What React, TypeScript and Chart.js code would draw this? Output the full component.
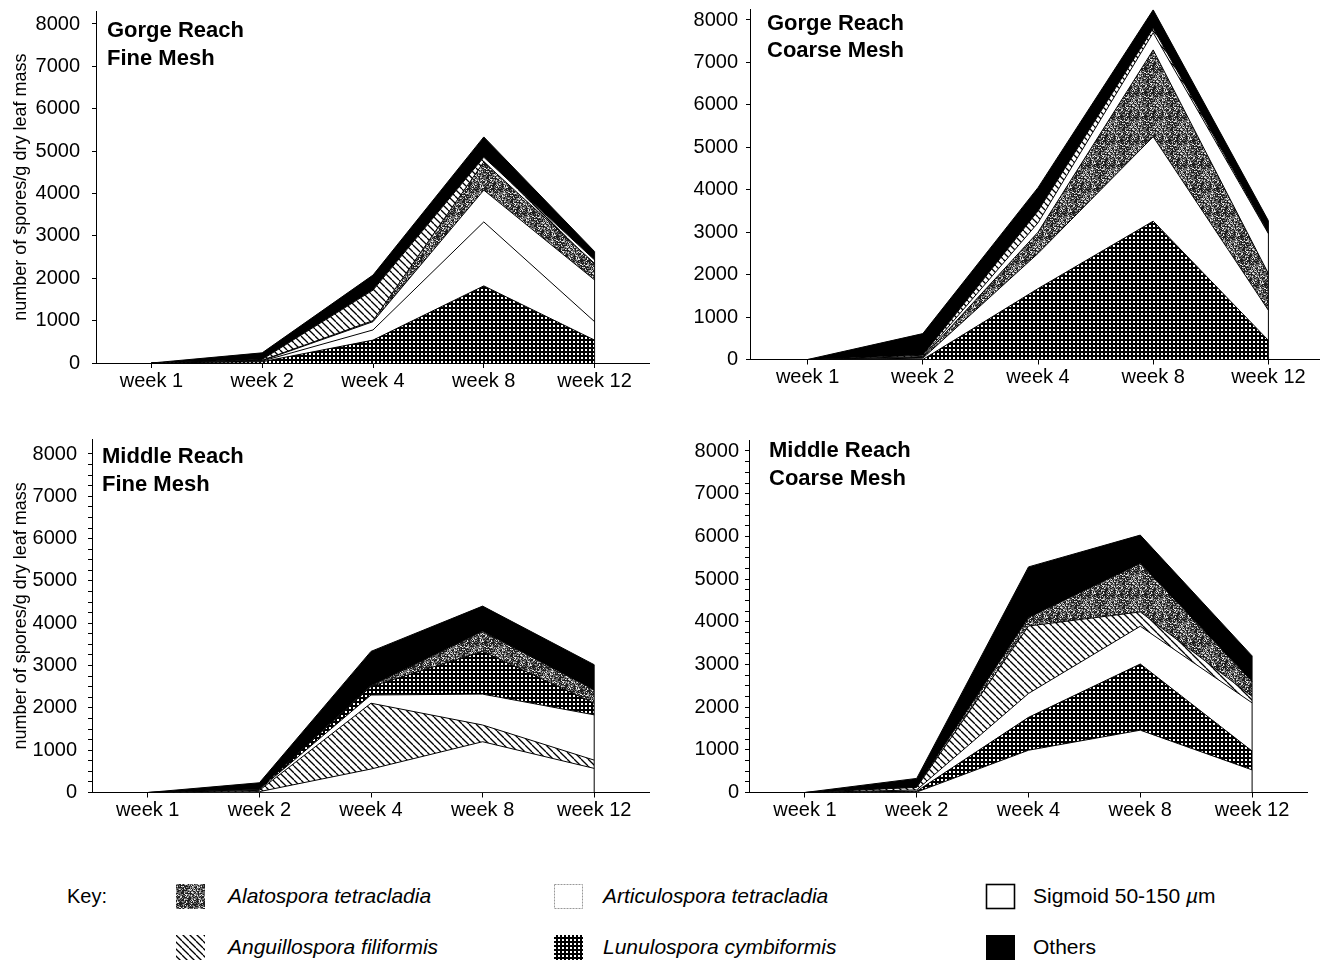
import React, { useEffect, useRef } from 'react';
import { Chart, registerables } from 'chart.js';

Chart.register(...registerables);

// ---------------- DATA ----------------
const WEEKS = ['week 1', 'week 2', 'week 4', 'week 8', 'week 12'];
const Y_TICK_STEP = 1000;
const Y_TICK_TOP = 8000;
const Y_AXIS_TITLE = 'number of spores/g dry leaf mass';

// Gorge Reach, Fine Mesh (spores / g dry leaf mass per taxon)
const gorgeFineLunulospora = [0, 30, 540, 1820, 540];
const gorgeFineSigmoid = [0, 15, 240, 1510, 435];
const gorgeFineArticulospora = [0, 10, 195, 750, 985];
const gorgeFineAlatospora = [0, 10, 25, 665, 390];
const gorgeFineAnguillospora = [0, 20, 720, 110, 80];
const gorgeFineOthers = [0, 155, 355, 480, 200];

// Gorge Reach, Coarse Mesh
const gorgeCoarseLunulospora = [0, 0, 1670, 3260, 450];
const gorgeCoarseSigmoid = [0, 30, 830, 1990, 710];
const gorgeCoarseAlatospora = [0, 20, 500, 2045, 865];
const gorgeCoarseArticulospora = [0, 20, 220, 405, 940];
const gorgeCoarseAnguillospora = [0, 30, 280, 105, 20];
const gorgeCoarseOthers = [0, 510, 550, 435, 285];

// Middle Reach, Fine Mesh
const middleFineArticulospora = [0, 20, 555, 1200, 570];
const middleFineAnguillospora = [0, 30, 1555, 395, 195];
const middleFineSigmoid = [0, 20, 195, 730, 1070];
const middleFineLunulospora = [0, 10, 200, 1010, 275];
const middleFineAlatospora = [0, 5, 15, 475, 315];
const middleFineOthers = [0, 145, 815, 595, 595];

// Middle Reach, Coarse Mesh
const middleCoarseArticulospora = [0, 10, 990, 1460, 530];
const middleCoarseLunulospora = [0, 20, 770, 1550, 440];
const middleCoarseSigmoid = [0, 30, 560, 885, 1130];
const middleCoarseAnguillospora = [0, 60, 1580, 335, 150];
const middleCoarseAlatospora = [0, 10, 200, 1135, 350];
const middleCoarseOthers = [0, 200, 1185, 665, 600];

type Kind = 'ala' | 'art' | 'sig' | 'ang' | 'lun' | 'oth';

const SPECIES_LABEL: Record<Kind, string> = {
  ala: 'Alatospora tetracladia',
  art: 'Articulospora tetracladia',
  sig: 'Sigmoid 50-150 µm',
  ang: 'Anguillospora filiformis',
  lun: 'Lunulospora cymbiformis',
  oth: 'Others',
};

const PANELS: { title: string[]; layers: [Kind, number[]][] }[] = [
  {
    title: ['Gorge Reach', 'Fine Mesh'],
    layers: [
      ['lun', gorgeFineLunulospora],
      ['sig', gorgeFineSigmoid],
      ['art', gorgeFineArticulospora],
      ['ala', gorgeFineAlatospora],
      ['ang', gorgeFineAnguillospora],
      ['oth', gorgeFineOthers],
    ],
  },
  {
    title: ['Gorge Reach', 'Coarse Mesh'],
    layers: [
      ['lun', gorgeCoarseLunulospora],
      ['sig', gorgeCoarseSigmoid],
      ['ala', gorgeCoarseAlatospora],
      ['art', gorgeCoarseArticulospora],
      ['ang', gorgeCoarseAnguillospora],
      ['oth', gorgeCoarseOthers],
    ],
  },
  {
    title: ['Middle Reach', 'Fine Mesh'],
    layers: [
      ['art', middleFineArticulospora],
      ['ang', middleFineAnguillospora],
      ['sig', middleFineSigmoid],
      ['lun', middleFineLunulospora],
      ['ala', middleFineAlatospora],
      ['oth', middleFineOthers],
    ],
  },
  {
    title: ['Middle Reach', 'Coarse Mesh'],
    layers: [
      ['art', middleCoarseArticulospora],
      ['lun', middleCoarseLunulospora],
      ['sig', middleCoarseSigmoid],
      ['ang', middleCoarseAnguillospora],
      ['ala', middleCoarseAlatospora],
      ['oth', middleCoarseOthers],
    ],
  },
];

const LEGEND_ORDER: Kind[][] = [
  ['ala', 'art', 'sig'],
  ['ang', 'lun', 'oth'],
];

// ---------------- LAYOUT ----------------
const LAYOUT = [
  { L: 0, T: 0, W: 650, H: 400, yw: 96, zeroY: 363, y8000: 24, max: 8300, minor: 1000, yTitle: true, tickPad: 12, titleX: 107, titleY: [31, 59] },
  { L: 660, T: 0, W: 666, H: 400, yw: 90, zeroY: 359.5, y8000: 20, max: 8250, minor: 1000, yTitle: false, tickPad: 8, titleX: 767, titleY: [24, 51] },
  { L: 0, T: 430, W: 650, H: 400, yw: 92, zeroY: 792.5, y8000: 454, max: 8350, minor: 250, yTitle: true, tickPad: 11, titleX: 102, titleY: [457, 485] },
  { L: 660, T: 430, W: 648, H: 400, yw: 89, zeroY: 792.5, y8000: 451, max: 8250, minor: 250, yTitle: false, tickPad: 6, titleX: 769, titleY: [451, 479] },
];

const FONT = '"Liberation Sans", Arial, Helvetica, sans-serif';

// ---------------- PATTERNS ----------------
function tile(size: number, draw: (c: CanvasRenderingContext2D) => void) {
  const cv = document.createElement('canvas');
  cv.width = size;
  cv.height = size;
  const c = cv.getContext('2d')!;
  draw(c);
  return cv;
}

function makeFills(ctx: CanvasRenderingContext2D) {
  const cross = tile(4, (c) => {
    c.fillStyle = '#000';
    c.fillRect(0, 0, 4, 4);
    c.fillStyle = '#fff';
    c.fillRect(1, 1, 2, 2);
  });
  const hatch = tile(7, (c) => {
    c.fillStyle = '#fff';
    c.fillRect(0, 0, 7, 7);
    c.strokeStyle = '#000';
    c.lineWidth = 1.3;
    for (const k of [-7, 0, 7]) {
      c.beginPath();
      c.moveTo(k, 0);
      c.lineTo(k + 7, 7);
      c.stroke();
    }
  });
  const stip = tile(24, (c) => {
    const img = c.createImageData(24, 24);
    for (let y = 0; y < 24; y++) {
      for (let x = 0; x < 24; x++) {
        let h = Math.imul(x + 1, 374761393) + Math.imul(y + 7, 668265263);
        h = Math.imul(h ^ (h >>> 13), 1274126177);
        h ^= h >>> 16;
        const r = (h >>> 0) / 4294967296;
        const v = r < 0.4 ? 30 : r < 0.7 ? 105 : r < 0.88 ? 165 : 235;
        const i = (y * 24 + x) * 4;
        img.data[i] = v;
        img.data[i + 1] = v;
        img.data[i + 2] = v;
        img.data[i + 3] = 255;
      }
    }
    c.putImageData(img, 0, 0);
  });
  return {
    lun: ctx.createPattern(cross, 'repeat')!,
    ang: ctx.createPattern(hatch, 'repeat')!,
    ala: ctx.createPattern(stip, 'repeat')!,
    art: '#ffffff',
    sig: '#ffffff',
    oth: '#000000',
  } as Record<Kind, any>;
}

// ---------------- COMPONENT ----------------
export default function App() {
  const canvasRefs = useRef<(HTMLCanvasElement | null)[]>([]);
  const swatchRefs = useRef<Record<string, HTMLCanvasElement | null>>({});

  useEffect(() => {
    Chart.defaults.font.family = FONT;
    Chart.defaults.color = '#000';
    const charts: Chart[] = [];

    PANELS.forEach((panel, idx) => {
      const lay = LAYOUT[idx];
      const cv = canvasRefs.current[idx];
      if (!cv) return;
      const ctx = cv.getContext('2d')!;
      const fills = makeFills(ctx);
      const pxPerUnit = (lay.zeroY - lay.y8000) / 8000;
      const areaTop = lay.zeroY - lay.max * pxPerUnit - lay.T;
      const xh = lay.T + lay.H - lay.zeroY;

      const edgePlugin = {
        id: 'edge' + idx,
        afterDatasetsDraw(chart: any) {
          const c = chart.ctx;
          const n = WEEKS.length - 1;
          const x = chart.scales.x.getPixelForValue(n);
          let total = 0;
          chart.data.datasets.forEach((d: any) => (total += d.data[n]));
          c.save();
          c.strokeStyle = '#000';
          c.lineWidth = 1;
          c.beginPath();
          c.moveTo(x, chart.scales.y.getPixelForValue(0));
          c.lineTo(x, chart.scales.y.getPixelForValue(total));
          c.stroke();
          c.restore();
        },
      };
      const titlePlugin = {
        id: 'ptitle' + idx,
        afterDraw(chart: any) {
          const c = chart.ctx;
          c.save();
          c.fillStyle = '#000';
          c.font = `bold 22px ${FONT}`;
          c.textBaseline = 'middle';
          c.textAlign = 'left';
          panel.title.forEach((t, i) => c.fillText(t, lay.titleX - lay.L, lay.titleY[i] - lay.T));
          c.restore();
        },
      };

      const chart = new Chart(cv, {
        type: 'line',
        data: {
          labels: WEEKS,
          datasets: panel.layers.map(([kind, values], i) => ({
            label: SPECIES_LABEL[kind],
            data: values,
            fill: i === 0 ? 'origin' : '-1',
            backgroundColor: fills[kind],
            borderColor: '#000',
            borderWidth: 1,
            pointRadius: 0,
            tension: 0,
          })),
        },
        options: {
          animation: false,
          responsive: false,
          maintainAspectRatio: false,
          layout: { padding: { top: areaTop, left: 0, right: 0, bottom: 0 } },
          plugins: { legend: { display: false }, tooltip: { enabled: false } },
          scales: {
            x: {
              type: 'category',
              offset: true,
              grid: { display: true, drawOnChartArea: false, drawTicks: true, tickLength: 5, color: '#000', offset: false },
              border: { display: true, color: '#000', width: 1 },
              ticks: { color: '#000', font: { size: 20, family: FONT }, padding: 1, maxRotation: 0, autoSkip: false },
              afterFit: (s: any) => {
                s.height = xh;
                s.paddingLeft = 0;
                s.paddingRight = 0;
              },
            },
            y: {
              stacked: true,
              min: 0,
              max: lay.max,
              ticks: {
                autoSkip: false,
                color: '#000',
                font: { size: 20, family: FONT },
                padding: lay.tickPad,
                callback: (v: any) => (Number(v) % Y_TICK_STEP === 0 ? String(v) : ''),
              },
              afterBuildTicks: (s: any) => {
                const t: { value: number }[] = [];
                for (let v = 0; v <= Y_TICK_TOP; v += lay.minor) t.push({ value: v });
                s.ticks = t;
              },
              grid: { drawOnChartArea: false, drawTicks: true, tickLength: 4, color: '#000' },
              border: { display: true, color: '#000', width: 1 },
              title: {
                display: lay.yTitle,
                text: Y_AXIS_TITLE,
                color: '#000',
                font: { size: 18, family: FONT },
                padding: { top: 10, bottom: 0 },
              },
              afterFit: (s: any) => {
                s.width = lay.yw;
                s.paddingTop = 0;
                s.paddingBottom = 0;
              },
            },
          },
        } as any,
        plugins: [edgePlugin, titlePlugin],
      });
      charts.push(chart);
    });

    // legend swatches
    const tmp = document.createElement('canvas').getContext('2d')!;
    const fills = makeFills(tmp);
    (Object.keys(swatchRefs.current) as Kind[]).forEach((k) => {
      const cv = swatchRefs.current[k];
      if (!cv) return;
      const c = cv.getContext('2d')!;
      c.clearRect(0, 0, cv.width, cv.height);
      c.fillStyle = fills[k];
      c.fillRect(1, 1, cv.width - 2, cv.height - 2);
      if (k === 'sig') {
        c.strokeStyle = '#000';
        c.lineWidth = 1.6;
        c.strokeRect(1.5, 1.5, cv.width - 3, cv.height - 3);
      } else if (k === 'art') {
        c.strokeStyle = '#999';
        c.lineWidth = 1;
        c.setLineDash([2, 1]);
        c.strokeRect(1.5, 1.5, cv.width - 3, cv.height - 3);
      }
    });

    return () => charts.forEach((c) => c.destroy());
  }, []);

  const legendColX = [175, 553, 985];
  const legendTextX = [228, 603, 1033];
  const legendRowY = [896, 947];

  return (
    <div
      style={{
        position: 'fixed',
        left: 0,
        top: 0,
        width: 1320,
        height: 963,
        overflow: 'hidden',
        background: '#fff',
        fontFamily: FONT,
      }}
    >
      {LAYOUT.map((lay, i) => (
        <canvas
          key={i}
          ref={(el) => {
            canvasRefs.current[i] = el;
          }}
          width={lay.W}
          height={lay.H}
          style={{ position: 'absolute', left: lay.L, top: lay.T, width: lay.W, height: lay.H }}
        />
      ))}
      <div style={{ position: 'absolute', left: 67, top: legendRowY[0] - 13, fontSize: 20, lineHeight: '26px' }}>Key:</div>
      {LEGEND_ORDER.map((row, r) =>
        row.map((k, c) => (
          <React.Fragment key={k}>
            <canvas
              ref={(el) => {
                swatchRefs.current[k] = el;
              }}
              width={31}
              height={27}
              style={{ position: 'absolute', left: legendColX[c], top: legendRowY[r] - 13, width: 31, height: 27 }}
            />
            <div
              style={{
                position: 'absolute',
                left: legendTextX[c],
                top: legendRowY[r] - 13,
                fontSize: 21,
                lineHeight: '26px',
                whiteSpace: 'nowrap',
                fontStyle: k === 'sig' || k === 'oth' ? 'normal' : 'italic',
              }}
            >
              {k === 'sig' ? (
                <>
                  Sigmoid 50-150 <i>µ</i>m
                </>
              ) : (
                SPECIES_LABEL[k]
              )}
            </div>
          </React.Fragment>
        ))
      )}
    </div>
  );
}
